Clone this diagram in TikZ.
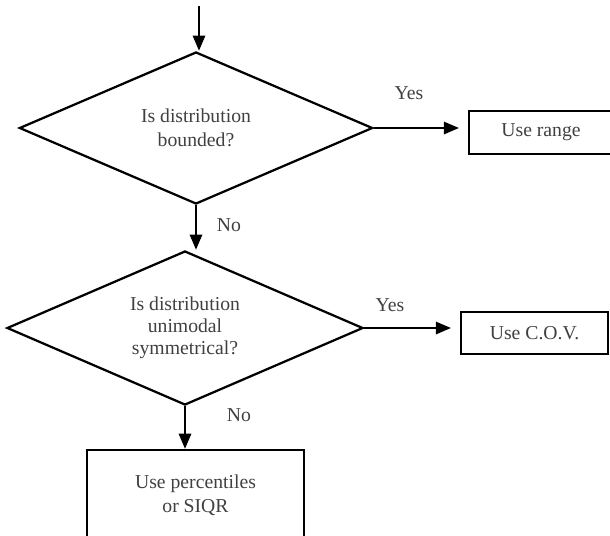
\documentclass[tikz,border=0pt]{standalone}
\usepackage{fontspec}
\setmainfont{Liberation Serif}
\usetikzlibrary{shapes.geometric,arrows.meta,positioning}

\tikzset{
  decision/.style={diamond, draw, aspect=2.3, line width=1.6pt, inner sep=0pt, align=center, text=black!75, font=\fontsize{14}{17}\selectfont},
  outcome/.style={rectangle, draw, line width=1.5pt, inner sep=0pt, align=center, text=black!75, font=\fontsize{14}{17}\selectfont},
  answer/.style={text=black!75, font=\fontsize{14}{17}\selectfont},
  flow/.style={-{Triangle[length=0.38cm,width=0.3cm]}, line width=2pt},
}

\begin{document}
\begin{tikzpicture}[x=0.025cm, y=-0.025cm]
\useasboundingbox (0,0) rectangle (610,535);

% Entry point
\coordinate (start) at (199,6);

% Decisions
\node[decision, minimum width=8.83cm, minimum height=3.8cm] (bounded) at (196,128) {Is distribution\\bounded?};
\node[decision, minimum width=8.9cm, minimum height=3.85cm, font=\fontsize{14}{15.5}\selectfont] (symm) at (185,328) {Is distribution\\unimodal\\symmetrical?};

% Outcomes
\node[outcome, minimum width=3.6cm, minimum height=1.075cm] (range) at (541,132.5) {Use range};
\node[outcome, minimum width=3.675cm, minimum height=1.05cm] (cov) at (534.5,333) {Use C.O.V.};
\node[outcome, minimum width=5.425cm, minimum height=2.25cm] (pct) at (195.5,495) {Use percentiles\\or SIQR};

% Arrows
\draw[flow] (start) -- (start |- bounded.north);
\draw[flow, shorten >=0.22cm] (bounded.east) -- (bounded.east -| range.west);
\draw[flow] (bounded.south) -- (bounded.south |- symm.north);
\draw[flow, shorten >=0.22cm] (symm.east) -- (symm.east -| cov.west);
\draw[flow] (symm.south) -- (symm.south |- pct.north);

% Labels
\node[answer] (yes1) at (409,93) {Yes};
\node[answer] (no1) at (229,225) {No};
\node[answer] (yes2) at (390,305) {Yes};
\node[answer] (no2) at (239,415) {No};
\end{tikzpicture}
\end{document}
